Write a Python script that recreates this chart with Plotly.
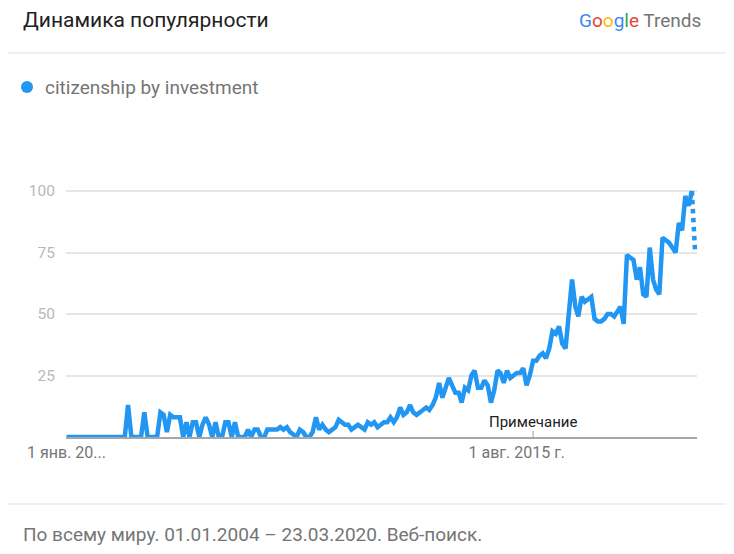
import plotly.graph_objects as go
import pandas as pd

# ---------------- data ----------------
start_month = "2004-01-01"
values = (
    [0] * 18
    + [0, 13, 0, 0, 0, 0, 10, 0, 0, 0, 0, 10, 9, 2, 9, 8, 8, 8, 0, 6,
       0, 6, 6, 0, 5, 8, 5, 0, 6, 0, 0, 6, 6, 0, 6, 0, 0, 0, 3, 0,
       3, 3, 0, 0, 3, 3, 3, 3, 4, 3, 4, 2, 1, 0, 3, 2, 0, 0, 2, 8,
       3, 5, 3, 2, 3, 4, 7, 6, 5, 5, 3, 4, 5, 4, 3, 6, 5, 6, 4, 5,
       6, 6, 8, 6, 8, 12, 9, 10, 13, 10, 9, 10, 11, 12, 11, 13, 16, 22, 16, 20,
       24, 21, 18, 18, 14, 20, 19, 25, 27, 20, 20, 23, 21, 14, 19, 27, 26, 22, 27, 24,
       25, 26, 26, 28, 21, 25, 31, 31, 33, 34, 32, 36, 43, 42, 45, 38, 36, 50, 64, 53,
       49, 57, 55, 56, 57, 48, 47, 47, 48, 50, 50, 49, 51, 53, 46, 74, 73, 72, 64, 69,
       58, 57, 77, 64, 60, 58, 81, 80, 79, 77, 75, 87, 84, 98, 94, 100, 76]
)
series_name = "citizenship by investment"
y_ticks = [25, 50, 75, 100]
x_tick_dates = ["2004-01-01", "2015-08-01"]
x_tick_labels = ["1 янв. 20...", "1 авг. 2015 г."]
note_date = "2016-01-01"
note_label = "Примечание"
title_text = "Динамика популярности"
footer_text = "По всему миру. 01.01.2004 – 23.03.2020. Веб-поиск."

months = pd.date_range(start_month, periods=len(values), freq="MS")

# ---------------- layout helpers ----------------
OFF = 8  # page body margin
W, H = 734 - 2 * OFF, 554 - 2 * OFF
L, R, T, B = 66 - OFF, 697 - OFF, 150 - OFF, 437 - OFF
BLUE = "#2196f3"
FONT = "Roboto"


def px(x):  # reference page pixel -> paper
    return (x - OFF - L) / (R - L)


def py(y):
    return (B - (y - OFF)) / (B - T)


fig = go.Figure()
fig.add_trace(go.Scatter(
    x=months[:-1], y=values[:-1], mode="lines",
    line=dict(color=BLUE, width=4.5), hoverinfo="skip", name=series_name,
))
fig.add_trace(go.Scatter(
    x=months[-2:], y=values[-2:], mode="lines",
    line=dict(color=BLUE, width=4.5, dash="dot"), hoverinfo="skip", name=series_name,
))

fig.update_layout(
    width=W, height=H,
    margin=dict(l=L, r=W - R, t=T, b=H - B, pad=0),
    paper_bgcolor="white", plot_bgcolor="white",
    showlegend=False,
    font=dict(family=FONT),
)
fig.update_xaxes(
    range=["2003-12-27", "2020-03-20"],
    tickvals=pd.to_datetime(x_tick_dates), ticktext=x_tick_labels,
    tickfont=dict(size=16, color="#757575", family=FONT),
    showgrid=False, zeroline=False,
    showline=True, linecolor="#a6a6a6", linewidth=2,
    ticks="",
)
fig.update_yaxes(
    range=[0, (B - T) / 2.46],
    tickvals=y_ticks,
    tickfont=dict(size=15.5, color="#b8b8b8", family=FONT),
    showgrid=True, gridcolor="#e6e6e6", gridwidth=1.5,
    zeroline=False, showline=False,
    ticks="outside", ticklen=7, tickcolor="rgba(0,0,0,0)",
)

shapes = [
    dict(type="line", xref="paper", yref="paper", x0=px(0), x1=px(734), y0=py(53), y1=py(53),
         line=dict(color="#e0e0e0", width=1.2)),
    dict(type="line", xref="paper", yref="paper", x0=px(0), x1=px(734), y0=py(504), y1=py(504),
         line=dict(color="#e0e0e0", width=1.2)),
    dict(type="circle", xref="paper", yref="paper", x0=px(21), x1=px(33), y0=py(81), y1=py(93),
         fillcolor=BLUE, line=dict(width=0)),
    dict(type="line", xref="x", yref="paper", x0=note_date, x1=note_date, y0=0, y1=py(431),
         line=dict(color="#9e9e9e", width=1)),
]
google = ('<span style="color:#4285F4">G</span><span style="color:#EA4335">o</span>'
          '<span style="color:#FBBC05">o</span><span style="color:#4285F4">g</span>'
          '<span style="color:#34A853">l</span><span style="color:#EA4335">e</span>'
          ' <span style="color:#757575">Trends</span>')
annotations = [
    dict(text=title_text, xref="paper", yref="paper", x=px(21), y=py(20),
         xanchor="left", yanchor="middle", showarrow=False,
         font=dict(size=21, color="#212121", family=FONT)),
    dict(text=google, xref="paper", yref="paper", x=px(703), y=py(21),
         xanchor="right", yanchor="middle", showarrow=False,
         font=dict(size=19, color="#757575", family=FONT)),
    dict(text=series_name, xref="paper", yref="paper", x=px(43), y=py(87),
         xanchor="left", yanchor="middle", showarrow=False,
         font=dict(size=19, color="#757575", family=FONT)),
    dict(text=note_label, xref="x", yref="paper", x=note_date, y=py(422),
         xanchor="center", yanchor="middle", showarrow=False,
         font=dict(size=15, color="#212121", family=FONT)),
    dict(text=footer_text, xref="paper", yref="paper", x=px(21), y=py(534),
         xanchor="left", yanchor="middle", showarrow=False,
         font=dict(size=19, color="#757575", family=FONT)),
]
fig.update_layout(shapes=shapes, annotations=annotations)

fig.write_html("out.html")
